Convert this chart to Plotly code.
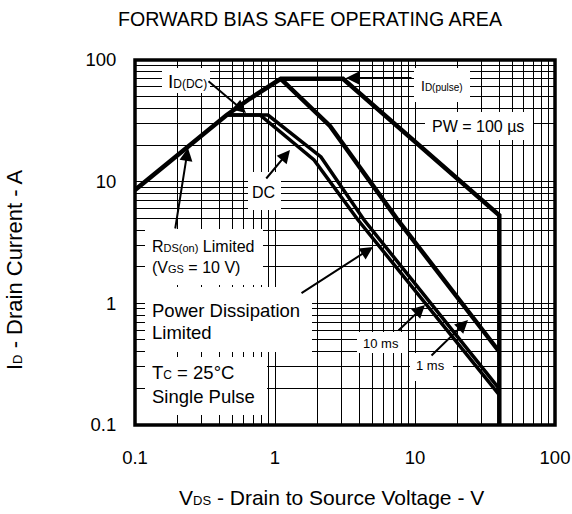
import plotly.graph_objects as go

# ---------------- data ----------------
vds_100us = [0.1, 0.291, 0.452, 0.66, 1.1, 3.06, 40, 40]
id_100us = [8.55, 23.3, 35.3, 48, 70, 70, 5.3, 0.1]
vds_1ms = [1.1, 2.47, 7.43, 40]
id_1ms = [70, 28.7, 4.94, 0.40]
vds_10ms = [0.452, 0.891, 2.13, 4.33, 40]
id_10ms = [35.3, 35.3, 15.97, 4.84, 0.198]
vds_dc = [0.452, 0.781, 1.90, 3.92, 40]
id_dc = [35.3, 35.3, 15.1, 4.84, 0.177]

grid_vals = [m * 10 ** e for e in (-1, 0, 1) for m in range(1, 10)] + [100]
x_tick_labels = {0.1: "0.1", 1: "1", 10: "10", 100: "100"}
y_tick_labels = {0.1: "0.1", 1: "1", 10: "10", 100: "100"}

FONT = "Liberation Sans, Arial, sans-serif"
W, H = 572, 514
L, R, T, B = 135, 555, 60, 425  # plot area in pixels


def px(x):
    return (x - L) / (R - L)


def py(y):
    return (B - y) / (B - T)


def tick_text(labels):
    return [next((t for k, t in labels.items() if abs(v - k) < 1e-9), "") for v in grid_vals]


fig = go.Figure()
for xs, ys, w in [(vds_100us, id_100us, 4.5), (vds_1ms, id_1ms, 4.5),
                  (vds_10ms, id_10ms, 3.5), (vds_dc, id_dc, 3.5)]:
    fig.add_trace(go.Scatter(x=xs, y=ys, mode="lines",
                             line=dict(color="black", width=w),
                             showlegend=False, hoverinfo="skip"))


def sub(t, size):
    return f"<span style='font-size:{size}px'>{t}</span>"


annotations = []


def label(text, x, y, size, anchor="left"):
    annotations.append(dict(text=text, x=px(x), y=py(y), xref="paper", yref="paper",
                            showarrow=False, xanchor=anchor, yanchor="middle",
                            font=dict(family=FONT, size=size, color="black")))


def arrow(tail, tip):
    annotations.append(dict(text="", x=px(tip[0]), y=py(tip[1]), xref="paper", yref="paper",
                            ax=tail[0] - tip[0], ay=tail[1] - tip[1],
                            showarrow=True, arrowhead=2, arrowsize=1.3, arrowwidth=2,
                            arrowcolor="black", standoff=0, startstandoff=0))


label("I" + sub("D(DC)", 12), 166, 81, 19)
label("I" + sub("D(pulse)", 10), 419, 86, 14)
label("PW = 100 µs", 430, 126, 16)
label("DC", 250, 193, 16)
label("R" + sub("DS(on)", 11) + " Limited", 150, 246, 16)
label("(V" + sub("GS", 11) + " = 10 V)", 150, 267, 16)
label("Power Dissipation", 150, 310, 18.5)
label("Limited", 150, 332, 18.5)
label("T" + sub("C", 12) + " = 25°C", 150, 372, 18.5)
label("Single Pulse", 150, 396, 18.5)
label("10 ms", 361, 343, 13)
label("1 ms", 414, 365, 13)

arrow((207, 80), (246, 113))
arrow((413, 78), (346, 78))
arrow((175, 230), (188, 148))
arrow((265, 180), (290, 150))
arrow((300, 294), (373, 247))
arrow((397, 332), (425, 305))
arrow((430, 357), (468, 320))

# titles
annotations.append(dict(text="FORWARD BIAS SAFE OPERATING AREA", x=px(310), y=py(19),
                        xref="paper", yref="paper", showarrow=False,
                        xanchor="center", yanchor="middle",
                        font=dict(family=FONT, size=19.6, color="black")))
annotations.append(dict(text="V" + sub("DS", 13) + " - Drain to Source Voltage - V",
                        x=px(331), y=py(497), xref="paper", yref="paper", showarrow=False,
                        xanchor="center", yanchor="middle",
                        font=dict(family=FONT, size=21, color="black")))
annotations.append(dict(text="I" + sub("D", 13) + " - Drain Current - A",
                        x=px(14), y=py(270), xref="paper", yref="paper", showarrow=False,
                        xanchor="center", yanchor="middle", textangle=-90,
                        font=dict(family=FONT, size=22, color="black")))

# white label boxes hiding the grid
boxes = [(162, 68, 210, 93), (414, 68, 470, 102), (425, 112, 533, 140),
         (248, 172, 281, 210), (145, 229, 263, 285), (145, 287, 312, 352),
         (145, 357, 267, 415), (357, 332, 408, 353), (410, 353, 453, 381)]
shapes = []
for x0, y0, x1, y1 in boxes:
    shapes.append(dict(type="rect", xref="paper", yref="paper",
                       x0=px(x0), x1=px(x1), y0=py(y1), y1=py(y0),
                       fillcolor="white", line=dict(width=0), layer="above"))
shapes.append(dict(type="rect", xref="paper", yref="paper", x0=0, x1=1, y0=0, y1=1,
                   line=dict(color="black", width=3.5), layer="above"))

axis_common = dict(type="log", range=[-1, 2], tickvals=grid_vals, automargin=False,
                   showgrid=True, gridcolor="black", gridwidth=1,
                   zeroline=False, showline=False, ticks="outside",
                   tickcolor="rgba(0,0,0,0)", fixedrange=True,
                   tickfont=dict(family=FONT, size=18.5, color="black"))

fig.update_layout(
    width=W, height=H, autosize=False,
    margin=dict(l=L, r=W - R, t=T, b=H - B, autoexpand=False),
    paper_bgcolor="white", plot_bgcolor="white",
    xaxis=dict(ticktext=tick_text(x_tick_labels), ticklen=16, **axis_common),
    yaxis=dict(ticktext=tick_text(y_tick_labels), ticklen=14, **axis_common),
    annotations=annotations, shapes=shapes,
)

fig.write_html("out.html",
               config={"responsive": False, "displayModeBar": False, "staticPlot": True},
               post_script="document.body.style.margin='0';document.body.style.padding='0';"
                           "document.body.style.overflow='hidden';"
                           "document.documentElement.style.overflow='hidden';")
